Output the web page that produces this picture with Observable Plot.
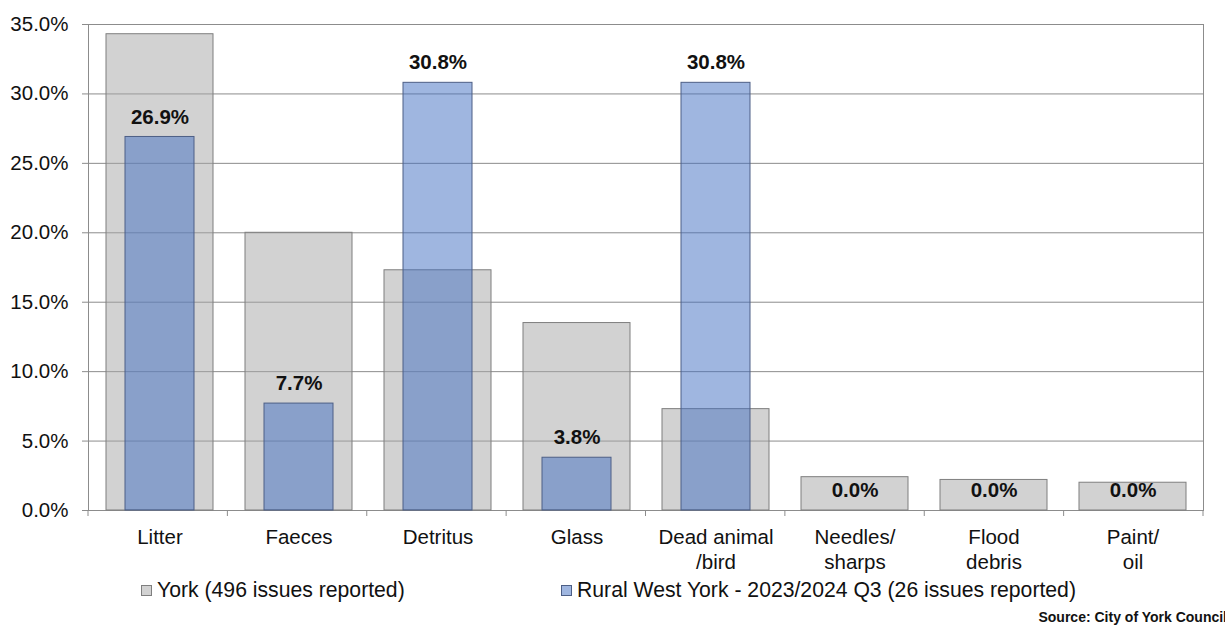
<!DOCTYPE html>
<html>
<head>
<meta charset="utf-8">
<script src="https://cdn.jsdelivr.net/npm/d3@7"></script>
<script src="https://cdn.jsdelivr.net/npm/@observablehq/plot@0.6"></script>
<style>
  html, body { margin: 0; padding: 0; background: #fff; }
  body { width: 1225px; height: 625px; position: relative; overflow: hidden; font-family: "Liberation Sans", Arial, sans-serif; }
  #chart { position: absolute; left: 0; top: 0; }
  #legend { position: absolute; left: 0; top: 576px; width: 1225px; height: 30px; font-size: 21.2px; color: #111; }
  .item { position: absolute; top: 0; display: flex; align-items: center; white-space: nowrap; line-height: 28px; }
  .sw { width: 11px; height: 11px; border: 1px solid #7f7f7f; margin-right: 5px; box-sizing: border-box; }
  #source { position: absolute; right: -2px; top: 609px; font-size: 14px; font-weight: bold; color: #111; white-space: nowrap; }
</style>
</head>
<body>
<div id="chart"></div>
<div id="legend"></div>
<div id="source">Source: City of York Council</div>
<script>
const categories = ["Litter", "Faeces", "Detritus", "Glass", "Dead animal\n/bird", "Needles/\nsharps", "Flood\ndebris", "Paint/\noil"];
const yorkValues = [0.343, 0.200, 0.173, 0.135, 0.073, 0.024, 0.022, 0.020];
const ruralValues = [0.269, 0.077, 0.308, 0.038, 0.308, 0.0, 0.0, 0.0];
const seriesNames = ["York (496 issues reported)", "Rural West York - 2023/2024 Q3 (26 issues reported)"];
const yTicks = [0, 0.05, 0.10, 0.15, 0.20, 0.25, 0.30, 0.35];

const york = categories.map((c, i) => ({category: c, value: yorkValues[i]}));
const rural = categories.map((c, i) => ({category: c, value: ruralValues[i]}));

const greyFill = "#a6a6a6";
const blueFill = "rgb(64,110,194)";
const gridColor = "#8c8c8c";
const fs = 20.5;
const pct = d => (d * 100).toFixed(1) + "%";

// category boundary ticks below the x axis
function boundaryTicks(index, scales, values, dims) {
  const g = d3.create("svg:g");
  const n = categories.length;
  const left = dims.marginLeft, right = dims.width - dims.marginRight;
  const y0 = scales.y(0);
  for (let i = 0; i <= n; i++) {
    const x = left + (right - left) * i / n;
    g.append("line").attr("x1", x).attr("x2", x).attr("y1", y0).attr("y2", y0 + 6)
      .attr("stroke", gridColor).attr("stroke-width", 1);
  }
  return g.node();
}

const chart = Plot.plot({
  width: 1225,
  height: 580,
  marginTop: 24,
  marginBottom: 70,
  marginLeft: 88,
  marginRight: 22,
  style: {fontFamily: "'Liberation Sans', Arial, sans-serif", fontSize: fs + "px", color: "#111", background: "#fff", overflow: "visible"},
  x: {domain: categories, padding: 0, axis: null},
  y: {domain: [0, 0.35], axis: null},
  marks: [
    Plot.gridY(yTicks, {stroke: gridColor, strokeOpacity: 1}),
    Plot.frame({stroke: gridColor}),
    Plot.barY(york, {x: "category", y: "value", insetLeft: 16, insetRight: 16, fill: greyFill, fillOpacity: 0.5, stroke: "#7f7f7f", strokeWidth: 1}),
    Plot.barY(rural, {x: "category", y: "value", insetLeft: 35, insetRight: 35, fill: blueFill, fillOpacity: 0.5, stroke: "#4d5f86", strokeWidth: 1}),
    Plot.text(rural, {x: "category", y: "value", text: d => pct(d.value), dy: -20, fontWeight: "bold", fontSize: fs, fill: "#111"}),
    Plot.axisY(yTicks, {tickFormat: pct, tickSize: 6, tickPadding: 14, stroke: gridColor, fontSize: fs, fill: "#111", label: null}),
    boundaryTicks,
    Plot.text(categories, {x: d => d, y: 0, text: d => d, dy: 16, lineAnchor: "top", lineHeight: 1.22, fontSize: fs, fill: "#111"})
  ]
});
document.getElementById("chart").appendChild(chart);

const legend = document.getElementById("legend");
const legendX = [141, 561];
const legendFills = ["rgba(166,166,166,0.5)", "rgba(64,110,194,0.5)"];
const legendStrokes = ["#7f7f7f", "#4d5f86"];
seriesNames.forEach((name, i) => {
  const item = document.createElement("div");
  item.className = "item";
  item.style.left = legendX[i] + "px";
  const sw = document.createElement("div");
  sw.className = "sw";
  sw.style.background = legendFills[i];
  sw.style.borderColor = legendStrokes[i];
  const t = document.createElement("span");
  t.textContent = name;
  item.appendChild(sw);
  item.appendChild(t);
  legend.appendChild(item);
});
</script>
</body>
</html>
